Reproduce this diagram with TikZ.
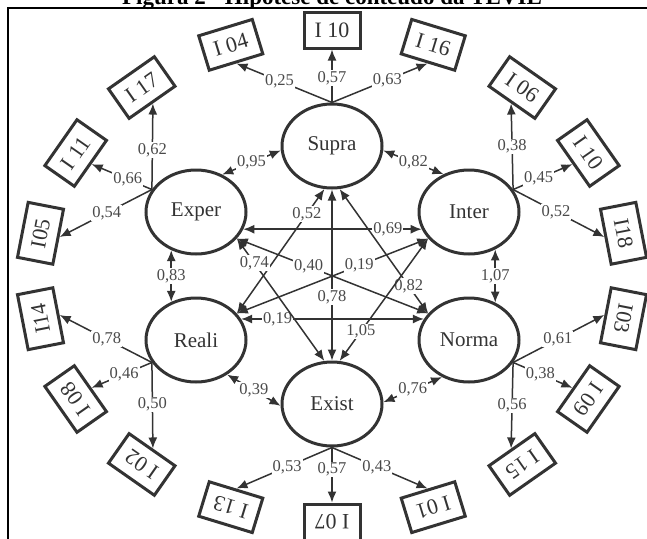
\documentclass[tikz,border=0pt]{standalone}
\usepackage{fontspec}
\setmainfont{Liberation Serif}
\usetikzlibrary{shapes.geometric,arrows.meta}
\definecolor{ink}{HTML}{333333}
\definecolor{lbl}{HTML}{4A4A4A}
\begin{document}
\begin{tikzpicture}[x=1pt,y=-1pt,
 lat/.style={ellipse, draw=ink, line width=3pt, minimum width=100pt, minimum height=84pt, inner sep=0pt, font=\fontsize{21}{21}\selectfont, text=ink},
 ind/.style={rectangle, draw=ink, line width=3pt, minimum width=56pt, minimum height=36pt, inner sep=0pt, font=\fontsize{22}{22}\selectfont, text=ink, fill=white},
 lab/.style={fill=white, inner sep=1pt, font=\fontsize{16.5}{16.5}\selectfont, text=lbl},
 arr/.style={draw=ink, line width=1.5pt, -{Latex[length=11pt,width=9pt]}},
 darr/.style={draw=ink, line width=1.5pt, {Latex[length=11pt,width=9pt]}-{Latex[length=11pt,width=9pt]}},
 frm/.style={draw=black, line width=2pt}
]
\useasboundingbox (0,0) rectangle (647,538);
\node[anchor=base, font=\bfseries\fontsize{23}{23}\selectfont, inner sep=0pt] (title) at (332,4.5) {Figura 2 - Hipótese de conteúdo da TEVIL};
\draw[frm] (8,540) -- (8,8) -- (650,8);

% latent variables
\node[lat] (supra) at (332,146) {Supra};
\node[lat] (exper) at (196,212) {Exper};
\node[lat] (inter) at (469,212) {Inter};
\node[lat] (reali) at (196,340) {Reali};
\node[lat] (norma) at (469,340) {Norma};
\node[lat] (exist) at (332,404) {Exist};

% indicators
\node[ind, rotate=17]  (s1) at ({332+296*cos(110)},{276-246*sin(110)}) {I 04};
\node[ind, rotate=0]   (s2) at ({332+296*cos(90)},{276-246*sin(90)}) {I 10};
\node[ind, rotate=-17] (s3) at ({332+296*cos(70)},{276-246*sin(70)}) {I 16};
\node[ind, rotate=35]  (e1) at ({332+296*cos(130)},{276-246*sin(130)}) {I 17};
\node[ind, rotate=55]  (e2) at ({332+296*cos(150)},{276-246*sin(150)}) {I 11};
\node[ind, rotate=79]  (e3) at ({332+296*cos(170)},{276-246*sin(170)}) {I05};
\node[ind, rotate=-35] (n1) at ({332+296*cos(50)},{276-246*sin(50)}) {I 06};
\node[ind, rotate=-55] (n2) at ({332+296*cos(30)},{276-246*sin(30)}) {I 10};
\node[ind, rotate=-79] (n3) at ({332+296*cos(10)},{276-246*sin(10)}) {I18};
\node[ind, rotate=101] (r1) at ({332+296*cos(190)},{276-246*sin(190)}) {I14};
\node[ind, rotate=125] (r2) at ({332+296*cos(210)},{276-246*sin(210)}) {I 08};
\node[ind, rotate=145] (r3) at ({332+296*cos(230)},{276-246*sin(230)}) {I 02};
\node[ind, rotate=163] (x1) at ({332+296*cos(250)},{276-246*sin(250)}) {I 13};
\node[ind, rotate=180] (x2) at ({332+296*cos(270)},{276-246*sin(270)}) {I 07};
\node[ind, rotate=197] (x3) at ({332+296*cos(290)},{276-246*sin(290)}) {I 01};
\node[ind, rotate=215] (m1) at ({332+296*cos(310)},{276-246*sin(310)}) {I 15};
\node[ind, rotate=235] (m2) at ({332+296*cos(330)},{276-246*sin(330)}) {I 09};
\node[ind, rotate=259] (m3) at ({332+296*cos(350)},{276-246*sin(350)}) {I03};

% loadings
\draw[arr] (supra.north) -- node[lab,pos=.55]{0,25} (s1.south);
\draw[arr] (supra.north) -- node[lab,pos=.46]{0,57} (s2.south);
\draw[arr] (supra.north) -- node[lab,pos=.58]{0,63} (s3.south);
\draw[arr] (exper.153) -- node[lab,pos=.46]{0,62} (e1.south);
\draw[arr] (exper.153) -- node[lab,pos=.40]{0,66} (e2.south);
\draw[arr] (exper.153) -- node[lab,pos=.49]{0,54} (e3.south);
\draw[arr] (inter.27) -- node[lab,pos=.50]{0,38} (n1.south);
\draw[arr] (inter.27) -- node[lab,pos=.43]{0,45} (n2.south);
\draw[arr] (inter.27) -- node[lab,pos=.47]{0,52} (n3.south);
\draw[arr] (reali.207) -- node[lab,pos=.49]{0,78} (r1.south);
\draw[arr] (reali.207) -- node[lab,pos=.46]{0,46} (r2.south);
\draw[arr] (reali.207) -- node[lab,pos=.49]{0,50} (r3.south);
\draw[arr] (exist.south) -- node[lab,pos=.47]{0,53} (x1.south);
\draw[arr] (exist.south) -- node[lab,pos=.40]{0,57} (x2.south);
\draw[arr] (exist.south) -- node[lab,pos=.47]{0,43} (x3.south);
\draw[arr] (norma.-27) -- node[lab,pos=.50]{0,56} (m1.south);
\draw[arr] (norma.-27) -- node[lab,pos=.46]{0,38} (m2.south);
\draw[arr] (norma.-27) -- node[lab,pos=.49]{0,61} (m3.south);

% outer correlations
\draw[darr] (exper.55) -- node[lab]{0,95} (supra.185);
\draw[darr] (supra.-5) -- node[lab]{0,82} (inter.124);
\draw[darr] (exper.-123) -- node[lab]{0,83} (reali.123);
\draw[darr] (inter.-55) -- node[lab]{1,07} (norma.55);
\draw[darr] (reali.-48) -- node[lab]{0,39} (exist.182);
\draw[darr] (exist.2) -- node[lab]{0,76} (norma.234);

% inner correlations
\draw[darr] (exper.-20) -- node[lab,pos=.81]{0,69} (inter.200);
\draw[darr] (reali.25) -- node[lab,pos=.2]{0,19} (norma.155);
\draw[darr] (reali.33) -- node[lab,pos=.8]{0,52} (supra.-100);
\draw[darr] (exper.-33) -- node[lab,pos=.2]{0,74} (exist.100);
\draw[darr] (exper.-33) -- node[lab,pos=.375]{0,40} (norma.147);
\draw[darr] (reali.33) -- node[lab,pos=.64]{0,19} (inter.213);
\draw[darr] (supra.-80) -- node[lab,pos=.78]{0,82} (norma.147);
\draw[darr] (inter.213) -- node[lab,pos=.76]{1,05} (exist.80);
\draw[darr] (supra.south) -- node[lab,pos=.63]{0,78} (exist.north);
\end{tikzpicture}
\end{document}
